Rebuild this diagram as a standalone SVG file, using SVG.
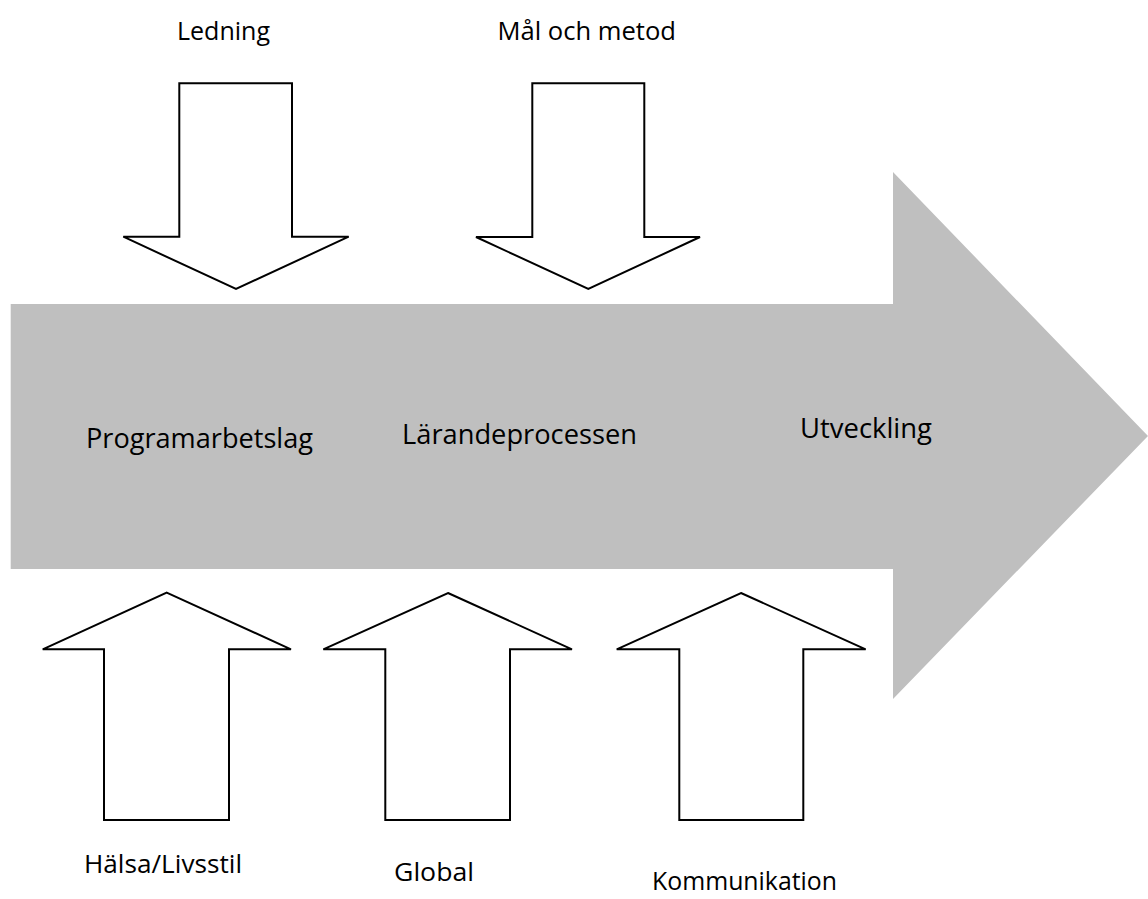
<svg xmlns="http://www.w3.org/2000/svg" width="1148" height="899" viewBox="0 0 1148 899">
<style>
.big{fill:#bfbfbf;stroke:none}
.arr{fill:#ffffff;stroke:#000000;stroke-width:2;stroke-linejoin:miter}
.t{font-family:"Open Sans","Liberation Sans",sans-serif;fill:#000}
.s{font-size:25.5px}
.m{font-size:27.3px}
.b{font-size:26px}
</style>
<rect width="1148" height="899" fill="#ffffff"/>
<g id="main-arrow">
<polygon class="big" points="10.7,304 893,304 893,172 1148,436 893,699 893,569 10.7,569"/>
<text class="t m" x="86" y="448" textLength="227" lengthAdjust="spacingAndGlyphs">Programarbetslag</text>
<text class="t m" x="402" y="444" textLength="235" lengthAdjust="spacingAndGlyphs">Lärandeprocessen</text>
<text class="t m" x="800" y="438" textLength="132" lengthAdjust="spacingAndGlyphs">Utveckling</text>
</g>
<g id="connectors">
<g id="ledning">
<polygon class="arr" points="179.3,83.3 292,83.3 292,236.7 348.7,236.7 236,289 123.3,236.7 179.3,236.7"/>
<text class="t s" x="177" y="40" textLength="93" lengthAdjust="spacingAndGlyphs">Ledning</text>
</g>
<g id="mal-och-metod">
<polygon class="arr" points="532.3,83.3 644.3,83.3 644.3,237 700,237 588.3,289 476,237 532.3,237"/>
<text class="t s" x="497.5" y="40" textLength="178.5" lengthAdjust="spacingAndGlyphs">Mål och metod</text>
</g>
<g id="halsa">
<polygon class="arr" points="166.7,592.7 291,649.3 229,649.3 229,820 104,820 104,649.3 42.7,649.3"/>
<text class="t b" x="84" y="873" textLength="158" lengthAdjust="spacingAndGlyphs">Hälsa/Livsstil</text>
</g>
<g id="global">
<polygon class="arr" points="448,593 572,649.3 510,649.3 510,820 385.3,820 385.3,649.3 323.3,649.3"/>
<text class="t b" x="394" y="881" textLength="80" lengthAdjust="spacingAndGlyphs">Global</text>
</g>
<g id="kommunikation">
<polygon class="arr" points="741,593 865.7,649.3 803.3,649.3 803.3,820 679.3,820 679.3,649.3 616.7,649.3"/>
<text class="t b" x="652" y="890" textLength="185" lengthAdjust="spacingAndGlyphs">Kommunikation</text>
</g>
</g>
</svg>
